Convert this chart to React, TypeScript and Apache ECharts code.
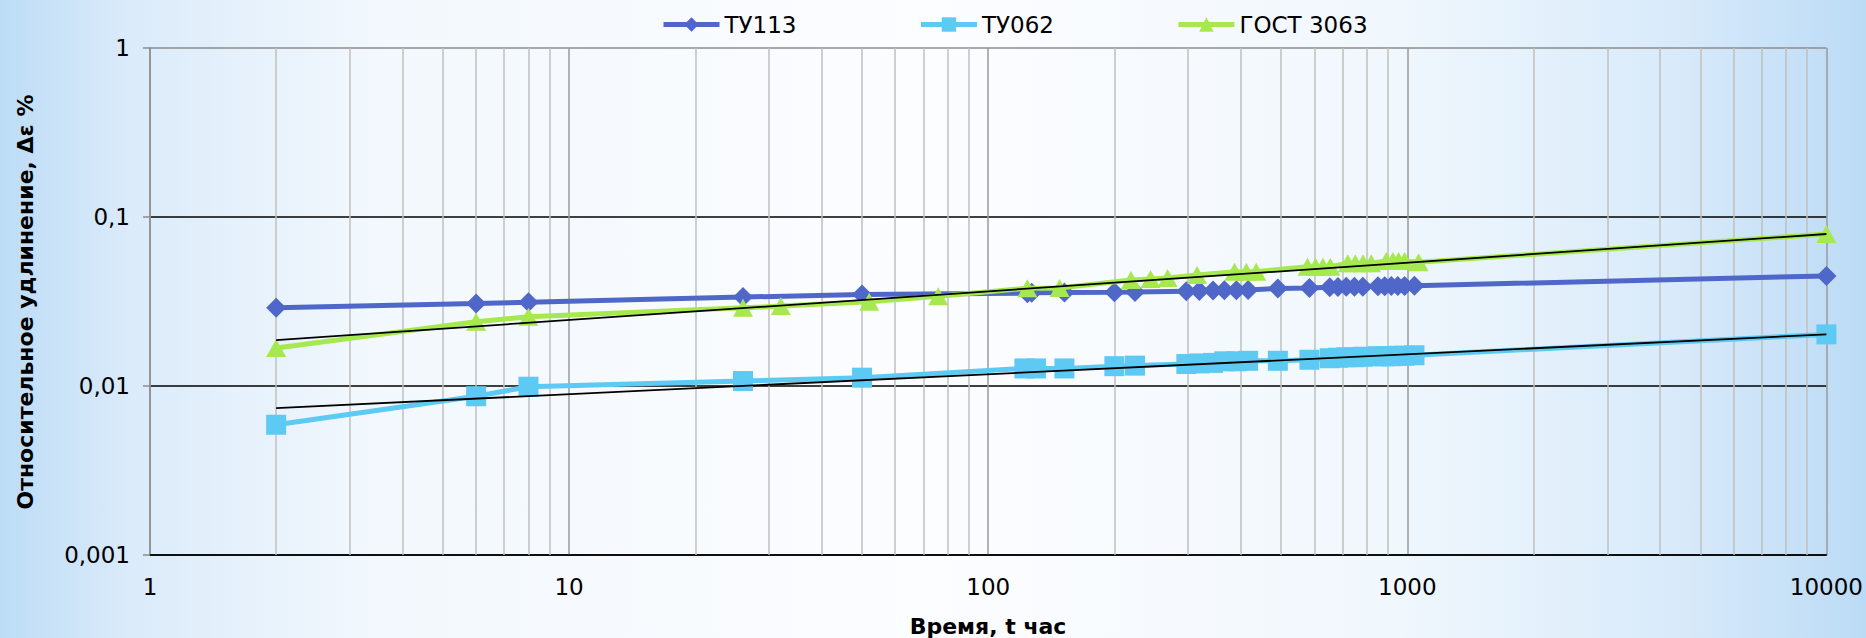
import React, { useEffect, useRef } from "react";
import * as echarts from "echarts";

// ---- data ----
const T_TU113 = [2, 6, 8, 26, 50, 124, 127, 152, 200, 224, 297, 319, 344, 366, 391, 417, 491, 584, 653, 683, 715, 748, 783, 851, 883, 916, 949, 985, 1040, 10000];
const V_TU113 = [0.029, 0.0308, 0.0313, 0.0336, 0.0348, 0.0354, 0.0356, 0.0357, 0.0359, 0.036, 0.0364, 0.0365, 0.0367, 0.0368, 0.0369, 0.037, 0.0378, 0.038, 0.0384, 0.0385, 0.0386, 0.0386, 0.0387, 0.0389, 0.0389, 0.039, 0.039, 0.0391, 0.0392, 0.0448];

const T_TU062 = [2, 6, 8, 26, 50, 122, 130, 152, 200, 224, 297, 319, 344, 366, 391, 417, 491, 584, 653, 683, 715, 748, 783, 851, 883, 916, 949, 985, 1040, 10000];
const V_TU062 = [0.0059, 0.0087, 0.0099, 0.0107, 0.0112, 0.0127, 0.0127, 0.0127, 0.0131, 0.0132, 0.0135, 0.0136, 0.0137, 0.014, 0.014, 0.0141, 0.0141, 0.0143, 0.0146, 0.0147, 0.0148, 0.0148, 0.0149, 0.015, 0.015, 0.015, 0.0151, 0.0151, 0.0152, 0.0202];

const T_GOST = [2, 6, 8, 26, 32, 52, 76, 124, 148, 219, 244, 268, 315, 387, 413, 436, 578, 604, 629, 655, 721, 751, 784, 820, 891, 924, 953, 985, 1064, 10000];
const V_GOST = [0.0168, 0.024, 0.0257, 0.029, 0.0297, 0.0315, 0.034, 0.0379, 0.038, 0.0424, 0.043, 0.0435, 0.0454, 0.0475, 0.0475, 0.0475, 0.0508, 0.0508, 0.0508, 0.0508, 0.0532, 0.0532, 0.0532, 0.0532, 0.055, 0.055, 0.055, 0.055, 0.054, 0.0793];

// power trend lines (straight on log-log), end points
const TREND_GOST_T = [2, 10000];
const TREND_GOST_V = [0.0187, 0.0793];
const TREND_TU062_T = [2, 10000];
const TREND_TU062_V = [0.0074, 0.0202];

// minor vertical grid lines
const MINOR_X = [2, 3, 4, 5, 6, 7, 8, 9, 20, 30, 40, 50, 60, 70, 80, 90, 200, 300, 400, 500, 600, 700, 800, 900, 2000, 3000, 4000, 5000, 6000, 7000, 8000, 9000];

const SERIES_NAMES = ["ТУ113", "ТУ062", "ГОСТ 3063"];
const X_TITLE = "Время, t час";
const Y_TITLE = "Относительное удлинение, Δε %";

const C113 = "#4f67c9";
const C062 = "#5ccaf3";
const CGOST = "#a6e94e";
const FONT = "'DejaVu Sans', Tahoma, Verdana, sans-serif";

export default function App() {
  const ref = useRef<HTMLDivElement>(null);

  useEffect(() => {
    document.body.style.margin = "0";
    const chart = echarts.init(ref.current!, null, { renderer: "svg" });
    const zip = (t: number[], v: number[]) => t.map((x, i) => [x, v[i]]);
    const fmtY = (v: number) => String(Number(v.toPrecision(3))).replace(".", ",");
    const fmtX = (v: number) => String(Math.round(v));

    const option: any = {
      animation: false,
      backgroundColor: {
        type: "linear",
        x: 0,
        y: 0,
        x2: 1,
        y2: 0,
        colorStops: [
          { offset: 0, color: "#bcdcf6" },
          { offset: 0.07, color: "#dbebfa" },
          { offset: 0.2, color: "#f2f8fd" },
          { offset: 0.5, color: "#fcfdff" },
          { offset: 0.75, color: "#f0f7fd" },
          { offset: 0.9, color: "#d8eafa" },
          { offset: 1, color: "#bbdbf5" },
        ],
      },
      grid: { left: 150, right: 39, top: 48, bottom: 83, containLabel: false },
      legend: {
        data: SERIES_NAMES.map((n) => ({ name: n })),
        left: 661,
        top: 13,
        padding: 0,
        itemWidth: 56,
        itemHeight: 18,
        itemGap: 122,
        lineStyle: { width: 5 },
        textStyle: { fontSize: 23, fontFamily: FONT, color: "#000" },
      },
      xAxis: {
        type: "log",
        logBase: 10,
        min: 1,
        max: 10000,
        axisLine: { show: true, lineStyle: { color: "#000", width: 1.5 } },
        axisTick: { show: false },
        axisLabel: { fontSize: 23, fontFamily: FONT, color: "#000", margin: 20, formatter: fmtX },
        splitLine: { show: true, lineStyle: { color: "#9a9a9a", width: 1.5 } },
      },
      yAxis: {
        type: "log",
        logBase: 10,
        min: 0.001,
        max: 1,
        axisLine: { show: true, lineStyle: { color: "#8c8c8c", width: 1.5 } },
        axisTick: { show: true, length: 7, lineStyle: { color: "#8c8c8c", width: 1.5 } },
        axisLabel: { fontSize: 23, fontFamily: FONT, color: "#000", margin: 20, formatter: fmtY },
        splitLine: { show: true, lineStyle: { color: ["#000", "#000", "#000", "#8c8c8c"], width: 1.5 } },
      },
      graphic: [
        {
          type: "text",
          x: 988,
          y: 626,
          style: {
            text: X_TITLE,
            fontSize: 22,
            fontWeight: "bold",
            fontFamily: FONT,
            fill: "#000",
            align: "center",
            verticalAlign: "middle",
          },
        },
        {
          type: "text",
          x: 25,
          y: 302,
          rotation: Math.PI / 2,
          style: {
            text: Y_TITLE,
            fontSize: 22,
            fontWeight: "bold",
            fontFamily: FONT,
            fill: "#000",
            align: "center",
            verticalAlign: "middle",
          },
        },
      ],
      series: [
        {
          name: "minor",
          type: "line",
          data: [],
          z: 1,
          markLine: {
            silent: true,
            z: 1,
            symbol: ["none", "none"],
            label: { show: false },
            lineStyle: { color: "#bfbfbf", width: 1.5, type: "solid" },
            data: MINOR_X.map((x) => ({ xAxis: x })),
          },
        },
        {
          name: SERIES_NAMES[0],
          type: "line",
          data: zip(T_TU113, V_TU113),
          symbol: "diamond",
          symbolSize: 20,
          lineStyle: { width: 5, color: C113 },
          itemStyle: { color: C113 },
          z: 3,
        },
        {
          name: SERIES_NAMES[1],
          type: "line",
          data: zip(T_TU062, V_TU062),
          symbol: "rect",
          symbolSize: 20,
          lineStyle: { width: 5, color: C062 },
          itemStyle: { color: C062 },
          z: 4,
        },
        {
          name: SERIES_NAMES[2],
          type: "line",
          data: zip(T_GOST, V_GOST),
          symbol: "triangle",
          symbolSize: [20, 18],
          lineStyle: { width: 5, color: CGOST },
          itemStyle: { color: CGOST },
          z: 5,
        },
        {
          name: "trendGost",
          type: "line",
          data: zip(TREND_GOST_T, TREND_GOST_V),
          symbol: "none",
          lineStyle: { width: 1.8, color: "#000" },
          z: 6,
        },
        {
          name: "trendTu062",
          type: "line",
          data: zip(TREND_TU062_T, TREND_TU062_V),
          symbol: "none",
          lineStyle: { width: 1.8, color: "#000" },
          z: 6,
        },
      ],
    };
    chart.setOption(option);
    return () => chart.dispose();
  }, []);

  return <div ref={ref} style={{ position: "fixed", left: 0, top: 0, width: 1866, height: 638 }} />;
}
